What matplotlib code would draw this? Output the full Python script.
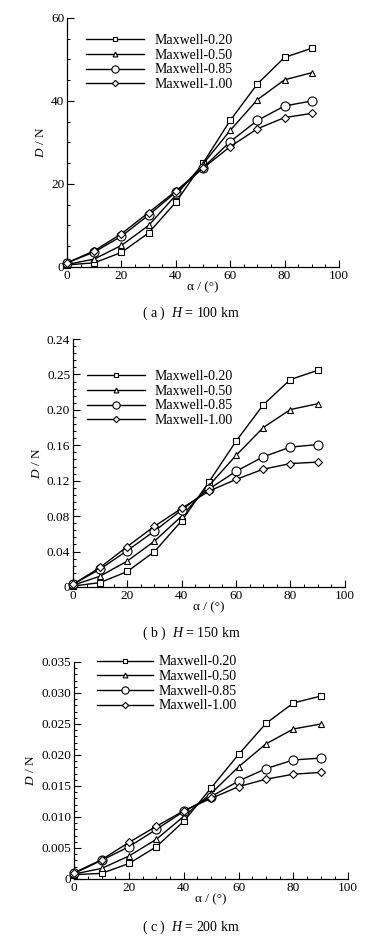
import matplotlib
matplotlib.use("Agg")
import matplotlib.pyplot as plt
from matplotlib.ticker import MultipleLocator, FixedLocator, FixedFormatter

plt.rcParams['font.family'] = ['Liberation Serif', 'DejaVu Serif']
plt.rcParams['mathtext.fontset'] = 'custom'
plt.rcParams['mathtext.rm'] = 'Liberation Serif'
plt.rcParams['mathtext.it'] = 'Liberation Serif:italic'

alpha = [0, 10, 20, 30, 40, 50, 60, 70, 80, 90]
labels = ['Maxwell-0.20', 'Maxwell-0.50', 'Maxwell-0.85', 'Maxwell-1.00']

# Panel (a) H = 100 km
a_020 = [0.5, 1.0, 3.5, 8.2, 15.6, 25.0, 35.3, 44.1, 50.5, 52.7]
a_050 = [0.6, 1.9, 5.2, 10.0, 17.3, 24.8, 32.9, 40.3, 45.1, 46.8]
a_085 = [1.0, 3.6, 7.4, 12.5, 18.0, 23.9, 30.2, 35.3, 38.8, 40.0]
a_100 = [1.0, 3.9, 8.0, 13.1, 18.3, 23.8, 29.0, 33.3, 36.0, 37.0]

# Panel (b) H = 150 km (values in the axis' tick scale)
b_020 = [0.001, 0.005, 0.0175, 0.040, 0.0747, 0.1185, 0.1646, 0.2057, 0.2343, 0.2446]
b_050 = [0.002, 0.0122, 0.0293, 0.0518, 0.080, 0.1143, 0.1486, 0.180, 0.2004, 0.2069]
b_085 = [0.003, 0.0202, 0.0411, 0.0632, 0.0869, 0.1105, 0.1307, 0.147, 0.158, 0.1608]
b_100 = [0.003, 0.0221, 0.0457, 0.0686, 0.0888, 0.1082, 0.1215, 0.133, 0.1394, 0.141]
b_ticks = [0, 0.04, 0.08, 0.12, 0.16, 0.20, 0.24, 0.28]
b_ticklabels = ['0', '0.04', '0.08', '0.12', '0.16', '0.20', '0.25', '0.24']

# Panel (c) H = 200 km
c_020 = [0.0007, 0.0009, 0.0025, 0.0052, 0.0093, 0.0147, 0.0201, 0.0251, 0.0284, 0.0295]
c_050 = [0.0008, 0.0017, 0.0037, 0.0064, 0.0101, 0.0138, 0.0181, 0.0218, 0.0242, 0.0250]
c_085 = [0.0009, 0.0030, 0.0052, 0.0080, 0.0109, 0.0133, 0.0158, 0.0178, 0.0192, 0.0195]
c_100 = [0.0010, 0.0031, 0.0059, 0.0085, 0.0110, 0.0130, 0.0149, 0.0161, 0.0169, 0.0172]

markers = ['s', '^', 'o', 'D']
msizes = [4.3, 4.3, 6.5, 4.0]

fig = plt.figure(figsize=(3.9, 9.41), dpi=100)

panels = [
    dict(rect=[0.172, 0.7163, 0.697, 0.2646], data=[a_020, a_050, a_085, a_100],
         ylim=(0, 60), major=20, minor=5, fmt=None, hl=4.2, htp=0.7,
         leg=(0.07, 0.935), caption=r'( a )  $H$ = 100 km', cap_y=1 - 313/941),
    dict(rect=[0.187, 0.3762, 0.697, 0.2635], data=[b_020, b_050, b_085, b_100],
         ylim=(0, 0.28), major=None, minor=0.008, fmt=None, hl=4.2, htp=0.7,
         leg=(0.05, 0.875), caption=r'( b )  $H$ = 150 km', cap_y=1 - 633/941),
    dict(rect=[0.190, 0.0659, 0.703, 0.2306], data=[c_020, c_050, c_085, c_100],
         ylim=(0, 0.035), major=0.005, minor=0.001, fmt='%.3f', hl=4.0, htp=0.4,
         leg=(0.085, 1.03), caption=r'( c )  $H$ = 200 km', cap_y=1 - 927/941),
]

for i, p in enumerate(panels):
    ax = fig.add_axes(p['rect'])
    for series, lab, m, ms in zip(p['data'], labels, markers, msizes):
        ax.plot(alpha, series, color='black', lw=1.0, marker=m, ms=ms,
                mfc='white', mec='black', mew=0.8, label=lab, clip_on=False, zorder=3)
    ax.set_xlim(0, 100)
    ax.set_ylim(*p['ylim'])
    ax.xaxis.set_major_locator(MultipleLocator(20))
    ax.xaxis.set_minor_locator(MultipleLocator(5))
    if i == 1:
        ax.yaxis.set_major_locator(FixedLocator(b_ticks))
        ax.yaxis.set_major_formatter(FixedFormatter(b_ticklabels))
    else:
        ax.yaxis.set_major_locator(MultipleLocator(p['major']))
        if p['fmt']:
            ax.yaxis.set_major_formatter(
                matplotlib.ticker.FuncFormatter(lambda v, pos: '0' if abs(v) < 1e-12 else '%.3f' % v))
    ax.yaxis.set_minor_locator(MultipleLocator(p['minor']))
    for s in ['top', 'right']:
        ax.spines[s].set_visible(False)
    for s in ['left', 'bottom']:
        ax.spines[s].set_linewidth(0.9)
    ax.tick_params(which='major', direction='in', length=5, width=0.8, labelsize=9.5, pad=2)
    ax.tick_params(which='minor', direction='in', length=2.5, width=0.7)
    ax.set_xlabel(r'α / (°)', fontsize=9.5, labelpad=0)
    ax.set_ylabel(r'$D$ / N', fontsize=9.5, labelpad=3)
    leg = ax.legend(loc='upper left', bbox_to_anchor=p['leg'], frameon=False, fontsize=10,
                    handlelength=p['hl'], handletextpad=p['htp'], labelspacing=0.12,
                    borderpad=0, borderaxespad=0, markerscale=0.8)
    fig.text(0.49, p['cap_y'], p['caption'], ha='center', va='center', fontsize=10)

fig.savefig('out.png', dpi=100)
